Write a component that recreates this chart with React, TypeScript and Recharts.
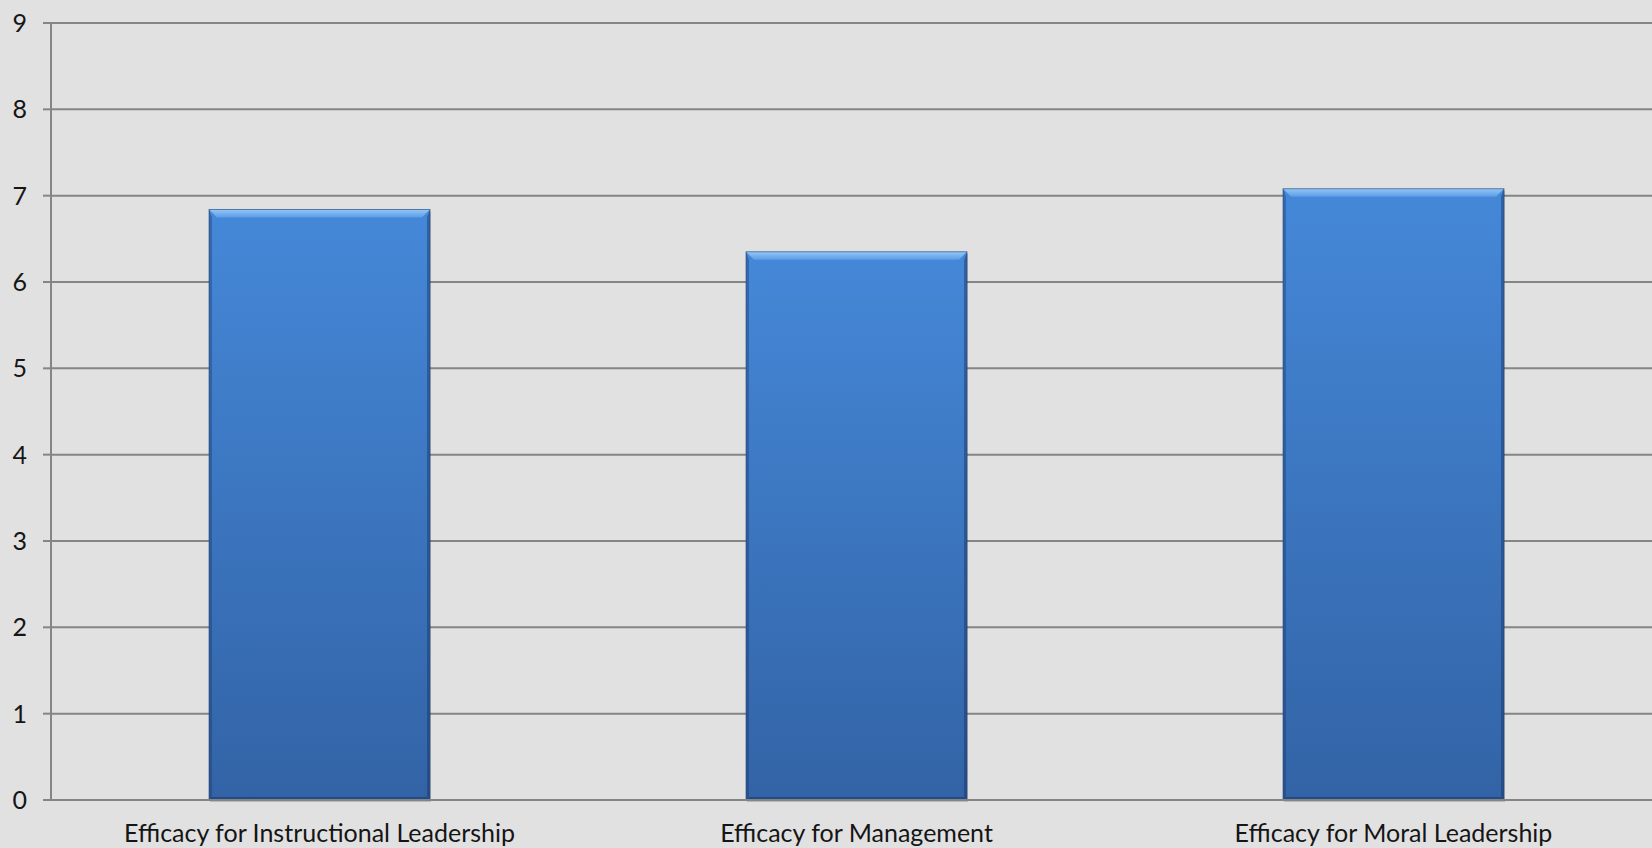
import { Bar, BarChart, CartesianGrid, XAxis, YAxis } from 'recharts';

const CATEGORIES = [
  'Efficacy for Instructional Leadership',
  'Efficacy for Management',
  'Efficacy for Moral Leadership',
];
const SCORES = [6.84, 6.35, 7.08];
const Y_TICKS = [0, 1, 2, 3, 4, 5, 6, 7, 8, 9];

const data = CATEGORIES.map((name, i) => ({ name, score: SCORES[i] }));

const GRID = '#858585';
const FONT = 'Lato, "Open Sans", sans-serif';

// bar with a bevelled top edge and darker sides, like an office-style 3D bar
function BevelBar(props: any) {
  const { x, y, width, height } = props;
  if (!height || height <= 0) return null;
  const b = 8;
  const s = 3;
  return (
    <g>
      <rect x={x + 1} y={y + 2} width={width} height={height} fill="rgba(0,0,0,0.18)" />
      <rect x={x} y={y} width={width} height={height} fill="url(#barBody)" />
      <polygon
        points={`${x},${y} ${x + width},${y} ${x + width - b},${y + b} ${x + b},${y + b}`}
        fill="url(#barTop)"
      />
      <polygon
        points={`${x},${y} ${x + s},${y + b} ${x + s},${y + height - s} ${x},${y + height}`}
        fill="rgba(20,50,100,0.35)"
      />
      <polygon
        points={`${x + width},${y} ${x + width - s},${y + b} ${x + width - s},${y + height - s} ${x + width},${y + height}`}
        fill="rgba(20,50,100,0.45)"
      />
      <polygon
        points={`${x},${y + height} ${x + s},${y + height - s} ${x + width - s},${y + height - s} ${x + width},${y + height}`}
        fill="rgba(20,45,90,0.45)"
      />
      <rect x={x} y={y} width={width} height={height} fill="none" stroke="rgba(40,70,120,0.6)" strokeWidth={1} />
    </g>
  );
}

export default function App() {
  return (
    <div style={{ position: 'fixed', left: 0, top: 0, width: 1652, height: 848, background: '#e1e1e1' }}>
      <BarChart
        width={1652}
        height={848}
        data={data}
        margin={{ top: 23, right: -10, bottom: 0, left: 0 }}
      >
        <defs>
          <linearGradient id="barBody" x1="0" y1="0" x2="0" y2="1">
            <stop offset="0%" stopColor="#4588d8" />
            <stop offset="100%" stopColor="#3263a6" />
          </linearGradient>
          <linearGradient id="barTop" x1="0" y1="0" x2="0" y2="1">
            <stop offset="0%" stopColor="#94c8f6" />
            <stop offset="100%" stopColor="#5a9ce6" />
          </linearGradient>
        </defs>
        <CartesianGrid vertical={false} stroke={GRID} strokeWidth={2} />
        <XAxis
          dataKey="name"
          axisLine={{ stroke: GRID, strokeWidth: 2 }}
          tickLine={false}
          tickSize={0}
          tickMargin={24}
          height={48}
          interval={0}
          tick={{ fill: '#151515', fontSize: 25, fontFamily: FONT }}
        />
        <YAxis
          domain={[0, 9]}
          ticks={Y_TICKS}
          width={51}
          axisLine={{ stroke: GRID, strokeWidth: 2 }}
          tickLine={{ stroke: GRID, strokeWidth: 2 }}
          tickSize={8}
          tickMargin={16}
          tick={{ fill: '#151515', fontSize: 25, fontFamily: FONT }}
        />
        <Bar dataKey="score" barSize={221} shape={BevelBar} isAnimationActive={false} />
      </BarChart>
    </div>
  );
}
